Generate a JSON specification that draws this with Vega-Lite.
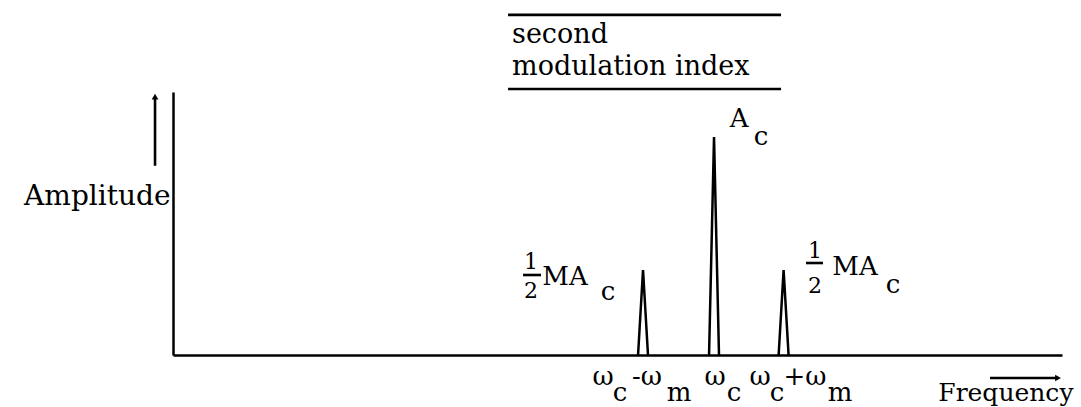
{
  "$schema": "https://vega.github.io/schema/vega-lite/v6.json",
  "width": 889,
  "height": 263,
  "autosize": {"type": "none"},
  "padding": {"left": 173, "top": 92, "right": 19, "bottom": 52},
  "background": "white",
  "config": {
    "view": {"stroke": null},
    "font": "DejaVu Serif",
    "text": {"font": "DejaVu Serif", "color": "black"}
  },
  "datasets": {
    "peaks": [
      {"peak": "lower", "f": -1.07, "a": 0, "o": 1},
      {"peak": "lower", "f": -1.0, "a": 0.39, "o": 2},
      {"peak": "lower", "f": -0.93, "a": 0, "o": 3},
      {"peak": "carrier", "f": -0.07, "a": 0, "o": 1},
      {"peak": "carrier", "f": 0.0, "a": 1.0, "o": 2},
      {"peak": "carrier", "f": 0.07, "a": 0, "o": 3},
      {"peak": "upper", "f": 0.91, "a": 0, "o": 1},
      {"peak": "upper", "f": 0.98, "a": 0.39, "o": 2},
      {"peak": "upper", "f": 1.05, "a": 0, "o": 3}
    ],
    "titleLines": [
      {"t": "second", "x": -2.845, "y": 1.431},
      {"t": "modulation index", "x": -2.845, "y": 1.284}
    ],
    "texts": [
      {"t": "A", "x": 0.352, "y": 1.046},
      {"t": "c", "x": 0.662, "y": 0.963},
      {"t": "MA", "x": -2.099, "y": 0.321},
      {"t": "c", "x": -1.493, "y": 0.252},
      {"t": "MA", "x": 1.986, "y": 0.367},
      {"t": "c", "x": 2.521, "y": 0.284},
      {"t": "ω", "x": -1.563, "y": -0.138},
      {"t": "c", "x": -1.324, "y": -0.211},
      {"t": "-ω", "x": -0.944, "y": -0.138},
      {"t": "m", "x": -0.493, "y": -0.211},
      {"t": "ω", "x": 0.014, "y": -0.138},
      {"t": "c", "x": 0.282, "y": -0.211},
      {"t": "ω", "x": 0.648, "y": -0.138},
      {"t": "c", "x": 0.887, "y": -0.211},
      {"t": "+ω", "x": 1.282, "y": -0.138},
      {"t": "m", "x": 1.775, "y": -0.211}
    ],
    "digits": [
      {"t": "1", "x": -2.577, "y": 0.394},
      {"t": "2", "x": -2.577, "y": 0.261},
      {"t": "1", "x": 1.423, "y": 0.445},
      {"t": "2", "x": 1.423, "y": 0.284}
    ],
    "rules": [
      {"x": -2.901, "x2": 0.944, "y": 1.56, "y2": 1.56},
      {"x": -2.901, "x2": 0.944, "y": 1.22, "y2": 1.22},
      {"x": -2.69, "x2": -2.437, "y": 0.367, "y2": 0.367},
      {"x": 1.296, "x2": 1.535, "y": 0.422, "y2": 0.422},
      {"x": -7.873, "x2": -7.873, "y": 0.868, "y2": 1.18},
      {"x": 3.887, "x2": 4.84, "y": -0.1055, "y2": -0.1055}
    ],
    "upHeads": [{"x": -7.873, "y": 1.185}],
    "rightHeads": [{"x": 4.845, "y": -0.1055}]
  },
  "layer": [
    {
      "data": {"name": "peaks"},
      "mark": {"type": "line", "color": "black", "strokeWidth": 2.5, "strokeJoin": "miter"},
      "encoding": {
        "x": {
          "field": "f", "type": "quantitative",
          "scale": {"domain": [-7.62, 4.901], "nice": false, "zero": false},
          "axis": {
            "domain": true, "domainColor": "black", "domainWidth": 2.5,
            "ticks": false, "labels": false, "grid": false,
            "title": "Frequency", "titleFont": "DejaVu Serif", "titleFontSize": 25,
            "titleFontWeight": "normal", "titleColor": "black",
            "titleAlign": "right", "titleBaseline": "alphabetic",
            "titleX": 900, "titleY": 45
          }
        },
        "y": {
          "field": "a", "type": "quantitative",
          "scale": {"domain": [0, 1.2064], "nice": false, "zero": false},
          "axis": {
            "domain": true, "domainColor": "black", "domainWidth": 2.5,
            "ticks": false, "labels": false, "grid": false,
            "title": "Amplitude", "titleFont": "DejaVu Serif", "titleFontSize": 28,
            "titleFontWeight": "normal", "titleColor": "black",
            "titleAngle": 0, "titleAlign": "right", "titleBaseline": "alphabetic",
            "titleX": -3, "titleY": 112
          }
        },
        "detail": {"field": "peak"},
        "order": {"field": "o", "type": "quantitative"}
      }
    },
    {
      "data": {"name": "rules"},
      "mark": {"type": "rule", "color": "black", "strokeWidth": 2.6},
      "encoding": {
        "x": {"field": "x", "type": "quantitative"},
        "x2": {"field": "x2"},
        "y": {"field": "y", "type": "quantitative"},
        "y2": {"field": "y2"}
      }
    },
    {
      "data": {"name": "upHeads"},
      "mark": {"type": "point", "shape": "triangle-up", "filled": true, "color": "black", "size": 45, "opacity": 1},
      "encoding": {
        "x": {"field": "x", "type": "quantitative"},
        "y": {"field": "y", "type": "quantitative"}
      }
    },
    {
      "data": {"name": "rightHeads"},
      "mark": {"type": "point", "shape": "triangle-right", "filled": true, "color": "black", "size": 45, "opacity": 1},
      "encoding": {
        "x": {"field": "x", "type": "quantitative"},
        "y": {"field": "y", "type": "quantitative"}
      }
    },
    {
      "data": {"name": "titleLines"},
      "mark": {"type": "text", "fontSize": 27, "align": "left", "baseline": "alphabetic", "color": "black"},
      "encoding": {
        "x": {"field": "x", "type": "quantitative"},
        "y": {"field": "y", "type": "quantitative"},
        "text": {"field": "t"}
      }
    },
    {
      "data": {"name": "texts"},
      "mark": {"type": "text", "fontSize": 26, "align": "center", "baseline": "alphabetic", "color": "black"},
      "encoding": {
        "x": {"field": "x", "type": "quantitative"},
        "y": {"field": "y", "type": "quantitative"},
        "text": {"field": "t"}
      }
    },
    {
      "data": {"name": "digits"},
      "mark": {"type": "text", "fontSize": 22, "align": "center", "baseline": "alphabetic", "color": "black"},
      "encoding": {
        "x": {"field": "x", "type": "quantitative"},
        "y": {"field": "y", "type": "quantitative"},
        "text": {"field": "t"}
      }
    }
  ]
}
